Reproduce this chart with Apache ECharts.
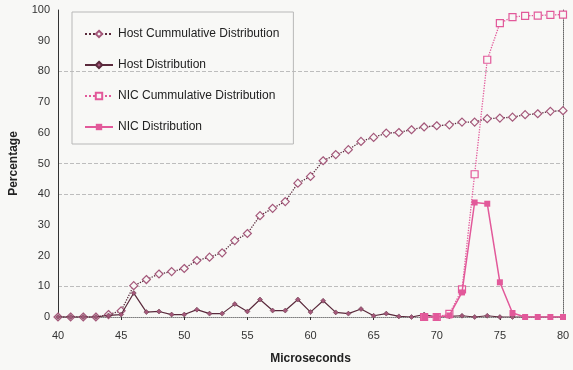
<!DOCTYPE html>
<html><head><meta charset="utf-8">
<script src="https://cdn.jsdelivr.net/npm/echarts@6/dist/echarts.min.js"></script>
<style>html,body{margin:0;padding:0;background:#f8f8f6}#c{width:573px;height:370px}</style>
</head><body><div id="c"></div>
<script>
const micro = [40,41,42,43,44,45,46,47,48,49,50,51,52,53,54,55,56,57,58,59,60,61,62,63,64,65,66,67,68,69,70,71,72,73,74,75,76,77,78,79,80];
const hostCum = [0,0,0,0,0.8,2,10.2,12.2,14,14.8,15.8,18.4,19.5,20.9,24.9,27.2,33,35.4,37.6,43.6,45.8,50.9,52.9,54.5,57.2,58.5,59.9,60.1,61,61.9,62.3,62.6,63.5,63.5,64.6,64.8,65.1,65.9,66.2,67,67.2];
const hostDist = [0,0,0,0,0.5,0.8,7.8,1.6,1.8,0.8,0.8,2.4,1.1,1.1,4.2,1.8,5.7,2.1,2.1,5.7,1.6,5.3,1.5,1.1,2.6,0.4,1.1,0.2,0,0.8,0,0.2,0.4,0,0.4,0,0,0,0,0,0];
const nicCum = [null,null,null,null,null,null,null,null,null,null,null,null,null,null,null,null,null,null,null,null,null,null,null,null,null,null,null,null,null,0,0,1,9,46.5,83.8,95.7,97.7,98.1,98.2,98.4,98.5];
const nicDist = [null,null,null,null,null,null,null,null,null,null,null,null,null,null,null,null,null,null,null,null,null,null,null,null,null,null,null,null,null,0,0,0.5,8,37.3,36.9,11.3,1.3,0,0,0,0];
const yTicks = [0,10,20,30,40,50,60,70,80,90,100];
const xTicks = [40,45,50,55,60,65,70,75,80];

const pair = arr => micro.map((m,i)=>[m, arr[i]]);
const hostLine = '#5a2a3c', hostMark = '#a4587a', pink = '#e2599a';
const font = 'Liberation Sans, Arial, sans-serif';
const chart = echarts.init(document.getElementById('c'), null, {renderer:'canvas'});
chart.setOption({
  backgroundColor:'#f8f8f6',
  animation:false,
  grid:{left:58, right:10, top:10, bottom:52},
  legend:{
    orient:'vertical', left:72, top:12,
    padding:[16,14,11,12], itemGap:19, itemWidth:28, itemHeight:8,
    borderColor:'#b8b8b8', borderWidth:1,
    textStyle:{fontFamily:font, fontSize:12, color:'#222'},
    data:['Host Cummulative Distribution','Host Distribution','NIC Cummulative Distribution','NIC Distribution']
  },
  xAxis:[{
    type:'value', min:40, max:80, interval:5,
    name:'Microseconds', nameLocation:'middle', nameGap:36,
    nameTextStyle:{fontFamily:font, fontSize:12, fontWeight:'bold', color:'#222'},
    axisLine:{lineStyle:{color:'#333', width:1}},
    axisTick:{show:true, length:3, lineStyle:{color:'#333'}},
    axisLabel:{fontFamily:font, fontSize:11, color:'#333', margin:13, formatter:v=>xTicks.includes(v)?String(v):''},
    splitLine:{show:false}
  },{
    type:'value', min:40, max:80, position:'top', axisLine:{show:true, lineStyle:{color:'#aaa', type:'dotted'}},
    axisTick:{show:false}, axisLabel:{show:false}, splitLine:{show:false}
  }],
  yAxis:[{
    type:'value', min:0, max:100, interval:10,
    name:'Percentage', nameLocation:'middle', nameGap:38, nameRotate:90,
    nameTextStyle:{fontFamily:font, fontSize:12, fontWeight:'bold', color:'#222'},
    axisLine:{show:true, lineStyle:{color:'#333', width:1}},
    axisTick:{show:false},
    axisLabel:{fontFamily:font, fontSize:11, color:'#333', margin:8, formatter:v=>yTicks.includes(v)?String(v):''},
    splitLine:{show:true, lineStyle:{type:'dashed', width:1,
      color:['transparent','#bdbdbd','transparent','transparent','#bdbdbd','#bdbdbd','transparent','transparent','#bdbdbd','transparent','transparent']}}
  },{
    type:'value', min:0, max:100, position:'right', axisLine:{show:true, lineStyle:{color:'#666', type:'dotted'}},
    axisTick:{show:false}, axisLabel:{show:false}, splitLine:{show:false}
  }],
  series:[
    {name:'Host Cummulative Distribution', type:'line', data:pair(hostCum),
     lineStyle:{color:hostLine, width:1.3, type:'dotted'},
     itemStyle:{color:'#f8f8f6', borderColor:hostMark, borderWidth:1.2},
     symbol:'diamond', symbolSize:8, z:3},
    {name:'Host Distribution', type:'line', data:pair(hostDist),
     lineStyle:{color:hostLine, width:1.2},
     itemStyle:{color:hostMark, borderColor:hostLine, borderWidth:0.5},
     symbol:'diamond', symbolSize:5, z:4},
    {name:'NIC Cummulative Distribution', type:'line', data:pair(nicCum),
     lineStyle:{color:pink, width:1.3, type:'dotted'},
     itemStyle:{color:'#f8f8f6', borderColor:pink, borderWidth:1.2},
     symbol:'rect', symbolSize:7, z:5},
    {name:'NIC Distribution', type:'line', data:pair(nicDist),
     lineStyle:{color:pink, width:1.5},
     itemStyle:{color:pink},
     symbol:'rect', symbolSize:6, z:6}
  ]
});
</script></body></html>
